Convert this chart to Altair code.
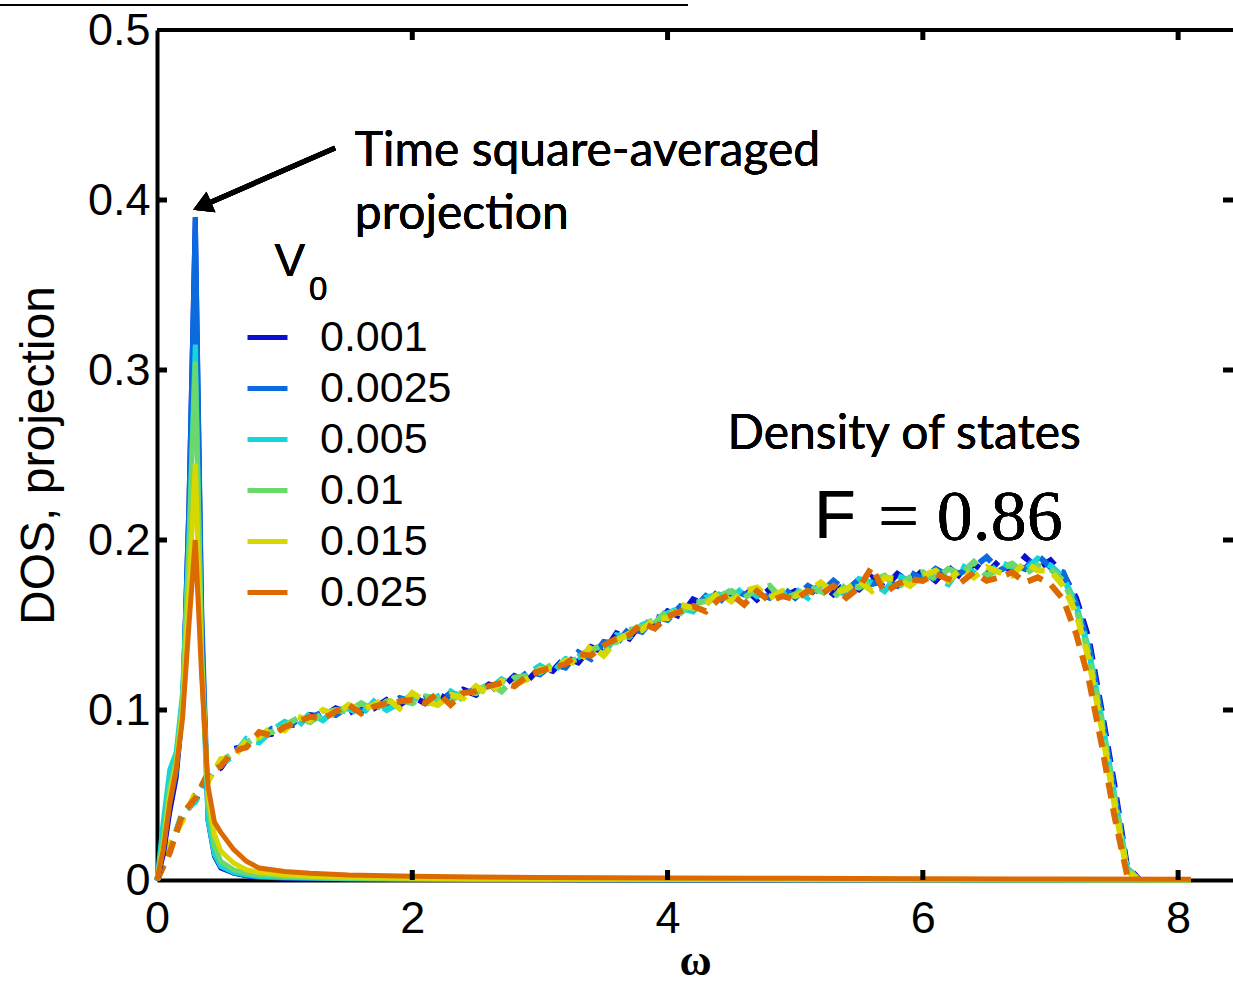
import altair as alt
import pandas as pd

# ---------------- data ----------------
V0_LABELS = ["0.001", "0.0025", "0.005", "0.01", "0.015", "0.025"]
COLORS = ["#0a0fd2", "#0a6ade", "#14d6d8", "#6ad86c", "#d8d800", "#db6a00"]

# Density of states (dashed), sampled every 0.1 in omega from 0 to 8.1
DOS_W = [round(0.1 * i, 1) for i in range(82)]
DOS_0001 = [0, 0.018, 0.038, 0.047, 0.062, 0.066, 0.077, 0.079, 0.085, 0.086,
            0.092, 0.091, 0.097, 0.096, 0.101, 0.098, 0.102, 0.101, 0.106, 0.103,
            0.108, 0.104, 0.109, 0.106, 0.112, 0.109, 0.115, 0.113, 0.12, 0.117,
            0.125, 0.123, 0.131, 0.128, 0.137, 0.134, 0.145, 0.142, 0.152, 0.15,
            0.158, 0.155, 0.165, 0.162, 0.17, 0.166, 0.172, 0.165, 0.171, 0.166,
            0.17, 0.167, 0.174, 0.168, 0.175, 0.171, 0.178, 0.172, 0.18, 0.175,
            0.182, 0.176, 0.184, 0.178, 0.186, 0.18, 0.188, 0.181, 0.19, 0.183,
            0.188, 0.18, 0.166, 0.142, 0.1, 0.056, 0.008, 0, 0, 0,
            0, 0]
DOS_00025 = [0, 0.02, 0.036, 0.05, 0.059, 0.07, 0.074, 0.081, 0.083, 0.089,
             0.089, 0.094, 0.095, 0.099, 0.097, 0.102, 0.099, 0.104, 0.102, 0.107,
             0.105, 0.107, 0.104, 0.11, 0.108, 0.113, 0.11, 0.117, 0.116, 0.122,
             0.121, 0.127, 0.125, 0.134, 0.13, 0.14, 0.139, 0.148, 0.146, 0.155,
             0.153, 0.161, 0.159, 0.167, 0.163, 0.171, 0.168, 0.169, 0.166, 0.172,
             0.166, 0.173, 0.169, 0.176, 0.17, 0.177, 0.174, 0.176, 0.173, 0.181,
             0.177, 0.183, 0.179, 0.181, 0.184, 0.19, 0.182, 0.186, 0.183, 0.191,
             0.184, 0.181, 0.163, 0.138, 0.097, 0.052, 0.006, 0, 0, 0,
             0, 0]
DOS_0005 = [0, 0.017, 0.04, 0.046, 0.061, 0.068, 0.073, 0.083, 0.081, 0.088,
            0.093, 0.09, 0.098, 0.094, 0.1, 0.101, 0.097, 0.105, 0.1, 0.104,
            0.109, 0.103, 0.108, 0.111, 0.106, 0.113, 0.112, 0.118, 0.114, 0.121,
            0.126, 0.122, 0.13, 0.131, 0.136, 0.133, 0.144, 0.143, 0.15, 0.153,
            0.157, 0.16, 0.158, 0.166, 0.168, 0.165, 0.173, 0.167, 0.17, 0.168,
            0.171, 0.166, 0.174, 0.171, 0.168, 0.177, 0.175, 0.17, 0.179, 0.176,
            0.18, 0.178, 0.174, 0.185, 0.181, 0.178, 0.187, 0.184, 0.182, 0.189,
            0.185, 0.178, 0.162, 0.135, 0.095, 0.05, 0.007, 0, 0, 0,
            0, 0]
DOS_001 = [0, 0.019, 0.037, 0.049, 0.06, 0.069, 0.075, 0.08, 0.086, 0.087,
           0.091, 0.095, 0.093, 0.098, 0.1, 0.099, 0.104, 0.1, 0.105, 0.106,
           0.104, 0.108, 0.107, 0.105, 0.111, 0.11, 0.116, 0.111, 0.119, 0.12,
           0.122, 0.127, 0.128, 0.13, 0.135, 0.139, 0.14, 0.147, 0.149, 0.151,
           0.159, 0.157, 0.163, 0.164, 0.167, 0.17, 0.166, 0.171, 0.173, 0.165,
           0.168, 0.172, 0.17, 0.166, 0.174, 0.172, 0.176, 0.179, 0.172, 0.178,
           0.181, 0.177, 0.183, 0.18, 0.187, 0.179, 0.183, 0.186, 0.18, 0.185,
           0.183, 0.176, 0.16, 0.133, 0.093, 0.048, 0.006, 0, 0, 0,
           0, 0]
DOS_0015 = [0, 0.021, 0.035, 0.051, 0.058, 0.071, 0.072, 0.082, 0.084, 0.09,
            0.088, 0.096, 0.094, 0.1, 0.097, 0.103, 0.1, 0.103, 0.107, 0.101,
            0.11, 0.105, 0.103, 0.109, 0.107, 0.114, 0.109, 0.117, 0.115, 0.118,
            0.124, 0.124, 0.129, 0.127, 0.138, 0.132, 0.141, 0.145, 0.147, 0.154,
            0.154, 0.162, 0.16, 0.162, 0.169, 0.164, 0.17, 0.172, 0.166, 0.17,
            0.167, 0.17, 0.175, 0.169, 0.171, 0.176, 0.17, 0.178, 0.177, 0.173,
            0.179, 0.182, 0.176, 0.183, 0.178, 0.184, 0.181, 0.179, 0.187, 0.182,
            0.182, 0.173, 0.157, 0.13, 0.09, 0.045, 0.005, 0, 0, 0,
            0, 0]
DOS_0025 = [0, 0.016, 0.039, 0.048, 0.063, 0.067, 0.076, 0.078, 0.087, 0.085,
            0.09, 0.093, 0.096, 0.095, 0.099, 0.103, 0.098, 0.102, 0.104, 0.105,
            0.106, 0.104, 0.11, 0.103, 0.11, 0.111, 0.114, 0.116, 0.114, 0.12,
            0.123, 0.125, 0.127, 0.133, 0.132, 0.138, 0.142, 0.144, 0.151, 0.148,
            0.155, 0.158, 0.161, 0.158, 0.165, 0.168, 0.162, 0.17, 0.164, 0.167,
            0.165, 0.17, 0.168, 0.173, 0.166, 0.172, 0.184, 0.169, 0.174, 0.177,
            0.176, 0.18, 0.177, 0.175, 0.181, 0.176, 0.178, 0.181, 0.175, 0.178,
            0.174, 0.165, 0.145, 0.118, 0.08, 0.038, 0.003, 0, 0, 0,
            0, 0]
DOS_SERIES = [DOS_0001, DOS_00025, DOS_0005, DOS_001, DOS_0015, DOS_0025]

# Time square-averaged projection (solid)
PROJ_W = [0, 0.05, 0.1, 0.15, 0.2, 0.25, 0.3, 0.35, 0.4, 0.45, 0.5, 0.6, 0.7,
          0.8, 1.0, 1.2, 1.5, 2.0, 2.5, 3.0, 4.0, 5.0, 6.0, 7.0, 8.1]
PROJ_0001 = [0, 0.015, 0.04, 0.06, 0.1, 0.22, 0.39, 0.15, 0.035, 0.014, 0.007, 0.004, 0.0025,
             0.0018, 0.0012, 0.001, 0.0007, 0.0005, 0.0004, 0.0003, 0.0002, 0.0001, 0.0001, 0, 0]
PROJ_00025 = [0, 0.02, 0.045, 0.063, 0.1, 0.22, 0.39, 0.16, 0.04, 0.015, 0.008, 0.004, 0.0025,
              0.0018, 0.0012, 0.001, 0.0007, 0.0005, 0.0004, 0.0003, 0.0002, 0.0001, 0.0001, 0, 0]
PROJ_0005 = [0, 0.035, 0.065, 0.075, 0.11, 0.2, 0.315, 0.13, 0.035, 0.015, 0.008, 0.0045, 0.003,
             0.002, 0.0015, 0.0012, 0.0008, 0.0006, 0.0004, 0.0003, 0.0002, 0.0001, 0.0001, 0, 0]
PROJ_001 = [0, 0.025, 0.055, 0.07, 0.105, 0.195, 0.305, 0.135, 0.045, 0.02, 0.011, 0.006, 0.004,
            0.003, 0.002, 0.0015, 0.001, 0.0007, 0.0005, 0.0004, 0.0003, 0.0002, 0.0001, 0, 0]
PROJ_0015 = [0, 0.02, 0.05, 0.068, 0.1, 0.17, 0.245, 0.125, 0.05, 0.027, 0.017, 0.01, 0.006,
             0.0045, 0.003, 0.0022, 0.0015, 0.001, 0.0008, 0.0006, 0.0004, 0.0003, 0.0002, 0.0001, 0]
PROJ_0025 = [0, 0.018, 0.045, 0.065, 0.095, 0.15, 0.2, 0.12, 0.055, 0.034, 0.028, 0.018, 0.011,
             0.007, 0.005, 0.004, 0.003, 0.0022, 0.0018, 0.0015, 0.0012, 0.001, 0.0008, 0.0006, 0.0005]
PROJ_SERIES = [PROJ_0001, PROJ_00025, PROJ_0005, PROJ_001, PROJ_0015, PROJ_0025]

X_TICKS = [0, 2, 4, 6, 8]
Y_TICKS = [0, 0.1, 0.2, 0.3, 0.4, 0.5]

# ---------------- tables ----------------
dos_rows = []
for lab, vals in zip(V0_LABELS, DOS_SERIES):
    for w, v in zip(DOS_W, vals):
        dos_rows.append({"w": w, "v": v, "V0": lab})
dos_df = pd.DataFrame(dos_rows)

proj_rows = []
for lab, vals in zip(V0_LABELS, PROJ_SERIES):
    for w, v in zip(PROJ_W, vals):
        proj_rows.append({"w": w, "v": v, "V0": lab})
proj_df = pd.DataFrame(proj_rows)

W, H = 1076, 850
XT = "ω"
YT = "DOS, projection"

xscale = alt.Scale(domain=[0, 8.43], nice=False, zero=False)
yscale = alt.Scale(domain=[0, 0.5], nice=False, zero=False)

xaxis = alt.Axis(values=X_TICKS, format="d", labelPadding=16, labelFontSize=45,
                 labelFlush=False,
                 titleFont="Liberation Serif", titleFontSize=44, titleFontWeight="bold",
                 titleBaseline="alphabetic", titleY=94)
yaxis = alt.Axis(values=Y_TICKS, format=".1~f", labelPadding=7, labelFontSize=45,
                 labelFlush=False,
                 titleFont="Liberation Sans", titleFontSize=48, titleFontWeight="normal",
                 titlePadding=24)

legend = alt.Legend(title=None, orient="none", legendX=88, legendY=285,
                    symbolType="stroke", symbolSize=1600, symbolStrokeWidth=5,
                    symbolDash=[1, 0], labelFontSize=43, labelFont="Liberation Sans",
                    labelColor="black", labelOffset=30, rowPadding=6, symbolOpacity=1)

color = alt.Color("V0:N", sort=V0_LABELS,
                  scale=alt.Scale(domain=V0_LABELS, range=COLORS), legend=legend)

X = alt.X("w:Q", scale=xscale, axis=xaxis, title=XT)
Y = alt.Y("v:Q", scale=yscale, axis=yaxis, title=YT)

dashed = alt.Chart(dos_df).mark_line(strokeWidth=6, strokeDash=[16, 10]).encode(
    x=X, y=Y, color=color, order=alt.Order("w:Q"))
solid = alt.Chart(proj_df).mark_line(strokeWidth=5).encode(
    x=X, y=Y, color=color, order=alt.Order("w:Q"))

# inward tick marks on all four sides
xt_df = pd.DataFrame({"w": X_TICKS[1:]})
yt_df = pd.DataFrame({"v": Y_TICKS[1:-1]})
tick_style = dict(color="black", strokeWidth=5)
bot_ticks = alt.Chart(xt_df).mark_rule(**tick_style).encode(
    x=alt.X("w:Q", scale=xscale, title=XT), y=alt.value(H), y2=alt.value(H - 10))
top_ticks = alt.Chart(xt_df).mark_rule(**tick_style).encode(
    x=alt.X("w:Q", scale=xscale, title=XT), y=alt.value(0), y2=alt.value(10))
left_ticks = alt.Chart(yt_df).mark_rule(**tick_style).encode(
    y=alt.Y("v:Q", scale=yscale, title=YT), x=alt.value(0), x2=alt.value(10))
right_ticks = alt.Chart(yt_df).mark_rule(**tick_style).encode(
    y=alt.Y("v:Q", scale=yscale, title=YT), x=alt.value(W), x2=alt.value(W - 10))

top_border = alt.Chart(xt_df).mark_rule(color="black", strokeWidth=4).encode(
    x=alt.value(0), x2=alt.value(W), y=alt.value(0))
thin_line = alt.Chart(xt_df).mark_rule(color="black", strokeWidth=1.5).encode(
    x=alt.value(-157), x2=alt.value(531), y=alt.value(-25))

# annotations
def txt(s, x, y, font="Lato", size=48, align="left", weight="normal"):
    return alt.Chart(xt_df).mark_text(
        text=s, font=font, fontSize=size, align=align, baseline="middle",
        color="black", fontWeight=weight).encode(x=alt.datum(x), y=alt.datum(y))

a1 = txt("Time square-averaged", 1.55, 0.428)
a2 = txt("projection", 1.55, 0.391)
a3 = txt("Density of states", 4.47, 0.2618)
a4 = txt("F", 5.15, 0.213, font="Liberation Sans", size=68)
a5 = txt("= 0.86", 5.65, 0.213, font="Liberation Serif", size=72)
v_txt = txt("V", 0.92, 0.3635, font="Liberation Sans", size=46)
v_sub = txt("0", 1.19, 0.347, font="Liberation Sans", size=33)

arrow_line = alt.Chart(xt_df).mark_rule(color="black", strokeWidth=5).encode(
    x=alt.datum(1.395), y=alt.datum(0.4306), x2=alt.datum(0.353), y2=alt.datum(0.3965))
arrow_head = alt.Chart(xt_df).mark_point(
    shape="triangle-left", filled=True, size=500, angle=336.4, color="black", opacity=1
).encode(x=alt.datum(0.353), y=alt.datum(0.3965))

chart = alt.layer(
    dashed, solid, bot_ticks, top_ticks, left_ticks, right_ticks, top_border, thin_line,
    a1, a2, a3, a4, a5, v_txt, v_sub, arrow_line, arrow_head
).properties(
    width=W, height=H,
    padding={"left": 157, "top": 30, "right": 0, "bottom": 106},
    autosize=alt.AutoSizeParams(type="none"),
    background="white",
).configure_view(stroke=None).configure_axis(
    grid=False, domainColor="black", domainWidth=4, tickSize=0, ticks=False,
    labelColor="black", labelFont="Liberation Sans", titleColor="black",
)

chart.save("out.html", embed_options={"renderer": "svg", "actions": False})
